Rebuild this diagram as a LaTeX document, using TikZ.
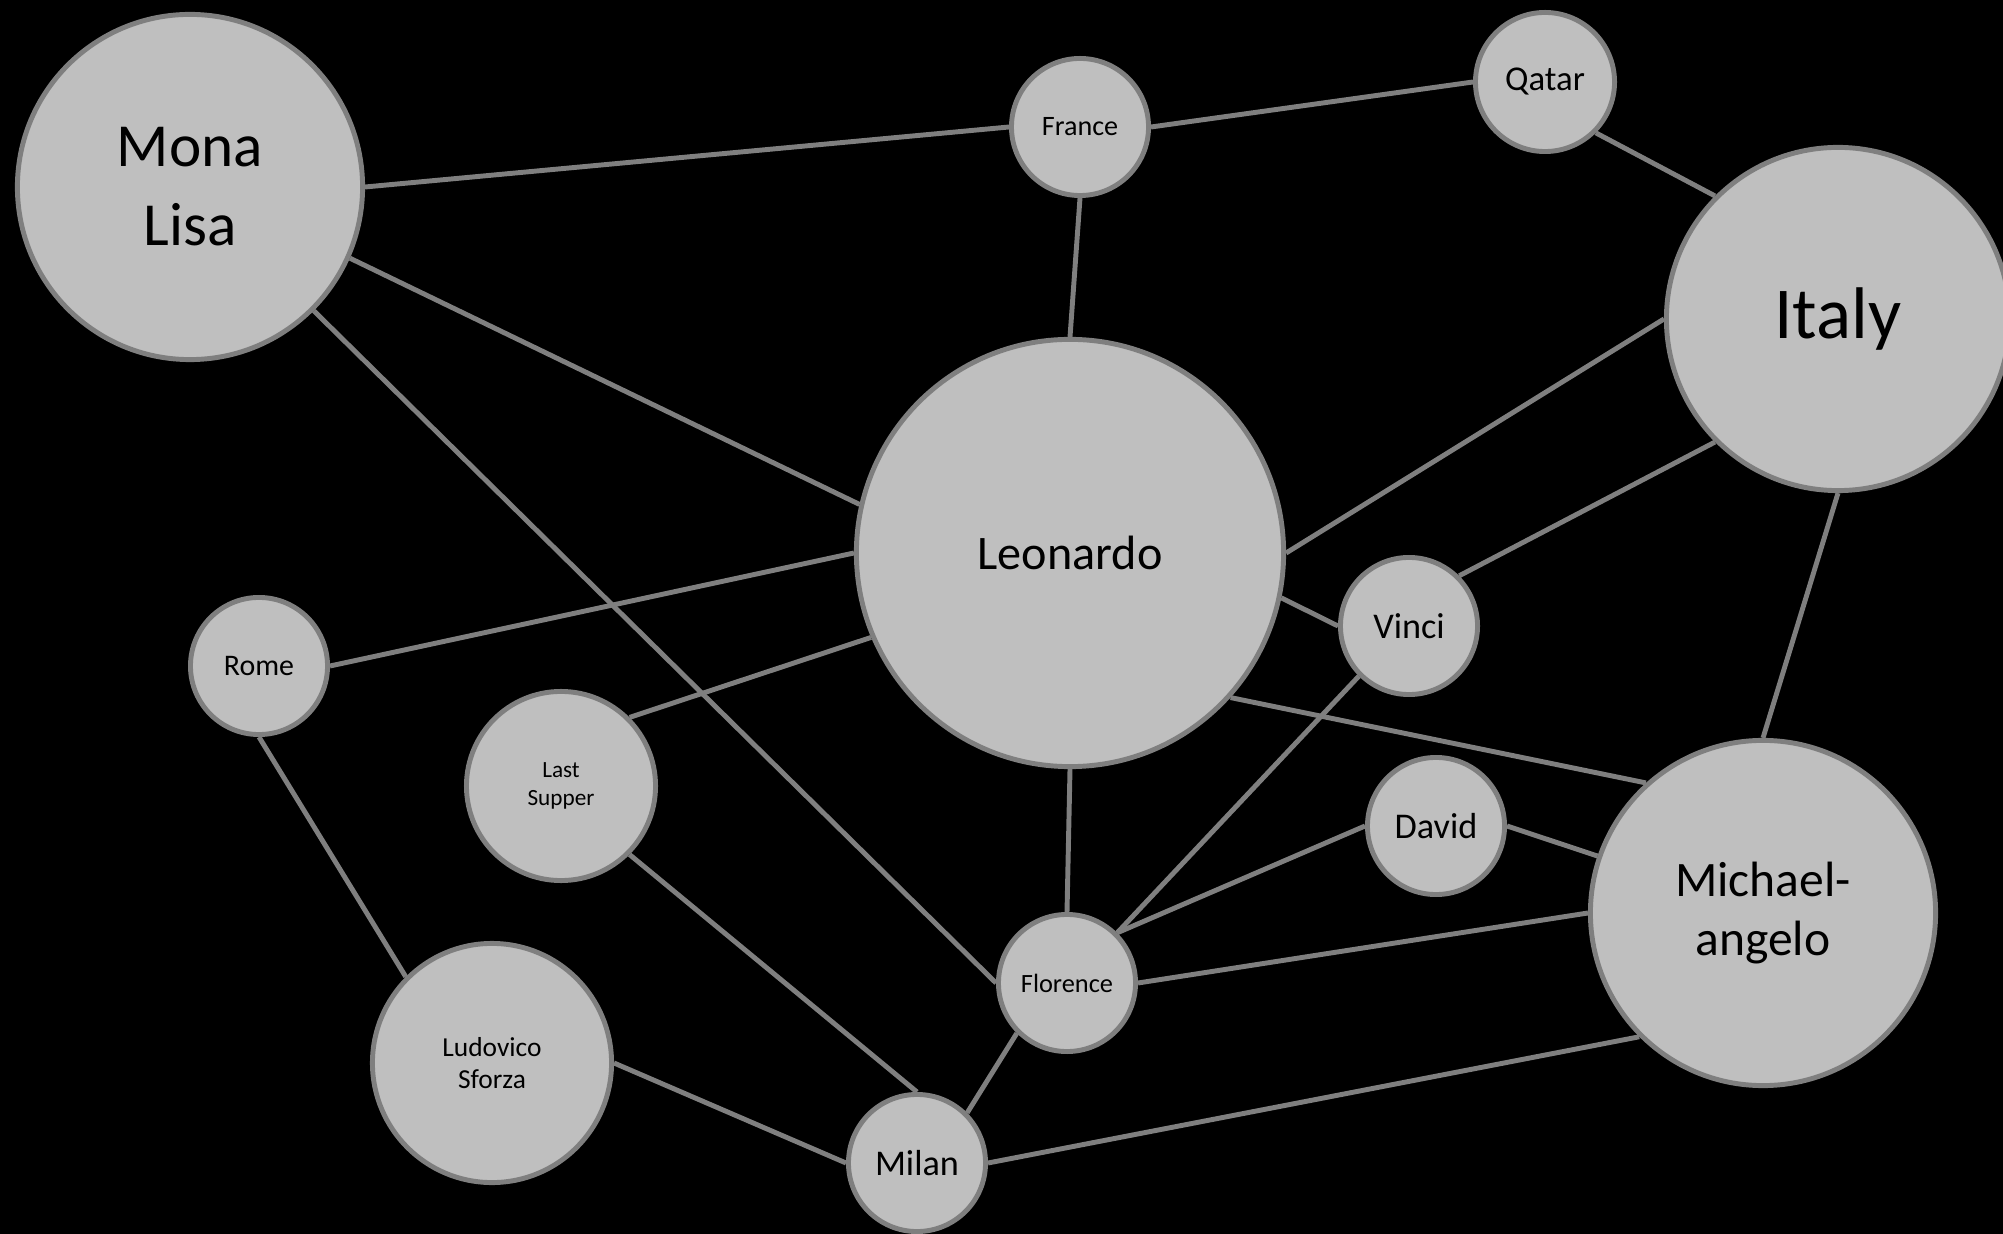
\documentclass[tikz,border=0pt]{standalone}
\usepackage{fontspec}
\setmainfont{Carlito}
\usepackage{tikz}
\definecolor{nodefill}{HTML}{BFBFBF}
\definecolor{nodeline}{HTML}{7F7F7F}
\tikzset{topic/.style={circle, draw=nodeline, fill=nodefill, line width=1.4pt, inner sep=0pt, align=center, text=black}}
\tikzstyle{link} = [draw=nodeline, line width=1.4pt]

\begin{document}
\begin{tikzpicture}[x=0.01cm, y=-0.01cm]
\fill[black] (0,0) rectangle (2003,1234);
\useasboundingbox (0,0) rectangle (2003,1234);

\node[topic, minimum size=3.45cm, font=\fontsize{17.4}{22.5}\selectfont] (mona) at (190,187) {Mona\\Lisa};
\node[topic, minimum size=1.37cm, font=\fontsize{8}{10}\selectfont] (france) at (1080,127) {France};
\node[topic, minimum size=1.39cm, font=\fontsize{9.9}{12}\selectfont] (qatar) at (1545,82) {Qatar};
\node[topic, minimum size=3.43cm, font=\fontsize{20.8}{25}\selectfont] (italy) at (1838,319) {Italy};
\node[topic, minimum size=4.27cm, font=\fontsize{13.7}{16}\selectfont] (leonardo) at (1070,553) {Leonardo};
\node[topic, minimum size=1.37cm, font=\fontsize{10.3}{12}\selectfont] (vinci) at (1409,626) {Vinci};
\node[topic, minimum size=1.37cm, font=\fontsize{8.5}{10}\selectfont] (rome) at (259,666) {Rome};
\node[topic, minimum size=1.89cm, font=\fontsize{6.6}{8}\selectfont] (supper) at (561,786) {Last\\Supper};
\node[topic, minimum size=1.37cm, font=\fontsize{10.3}{12}\selectfont] (david) at (1436,826) {David};
\node[topic, minimum size=3.45cm, font=\fontsize{14.1}{16.8}\selectfont] (michael) at (1763,913) {Michael-\\angelo};
\node[topic, minimum size=1.37cm, font=\fontsize{7.5}{9}\selectfont] (florence) at (1067,983) {Florence};
\node[topic, minimum size=2.39cm, font=\fontsize{7.8}{9.2}\selectfont] (sforza) at (492,1063) {Ludovico\\Sforza};
\node[topic, minimum size=1.37cm, font=\fontsize{10.3}{12}\selectfont] (milan) at (917,1163) {Milan};

\draw[link] (mona.0) -- (france.180);
\draw[link] (france.0) -- (qatar.180);
\draw[link] (qatar.-45) -- (italy.135);
\draw[link] (france.-90) -- (leonardo.90);
\draw[link] (mona.-24) -- (leonardo.167);
\draw[link] (mona.-45) -- (florence.180);
\draw[link] (rome.0) -- (leonardo.180);
\draw[link] (rome.-90) -- (sforza.135);
\draw[link] (supper.45) -- (leonardo.203);
\draw[link] (supper.-45) -- (milan.90);
\draw[link] (leonardo.0) -- (italy.180);
\draw[link] (leonardo.-12) -- (vinci.180);
\draw[link] (leonardo.-42) -- (michael.132);
\draw[link] (leonardo.-90) -- (florence.90);
\draw[link] (vinci.45) -- (italy.225);
\draw[link] (vinci.225) -- (florence.45);
\draw[link] (italy.-90) -- (michael.90);
\draw[link] (david.180) -- (florence.45);
\draw[link] (david.0) -- (michael.161);
\draw[link] (florence.0) -- (michael.180);
\draw[link] (florence.225) -- (milan.45);
\draw[link] (sforza.0) -- (milan.180);
\draw[link] (milan.0) -- (michael.225);
\end{tikzpicture}
\end{document}
